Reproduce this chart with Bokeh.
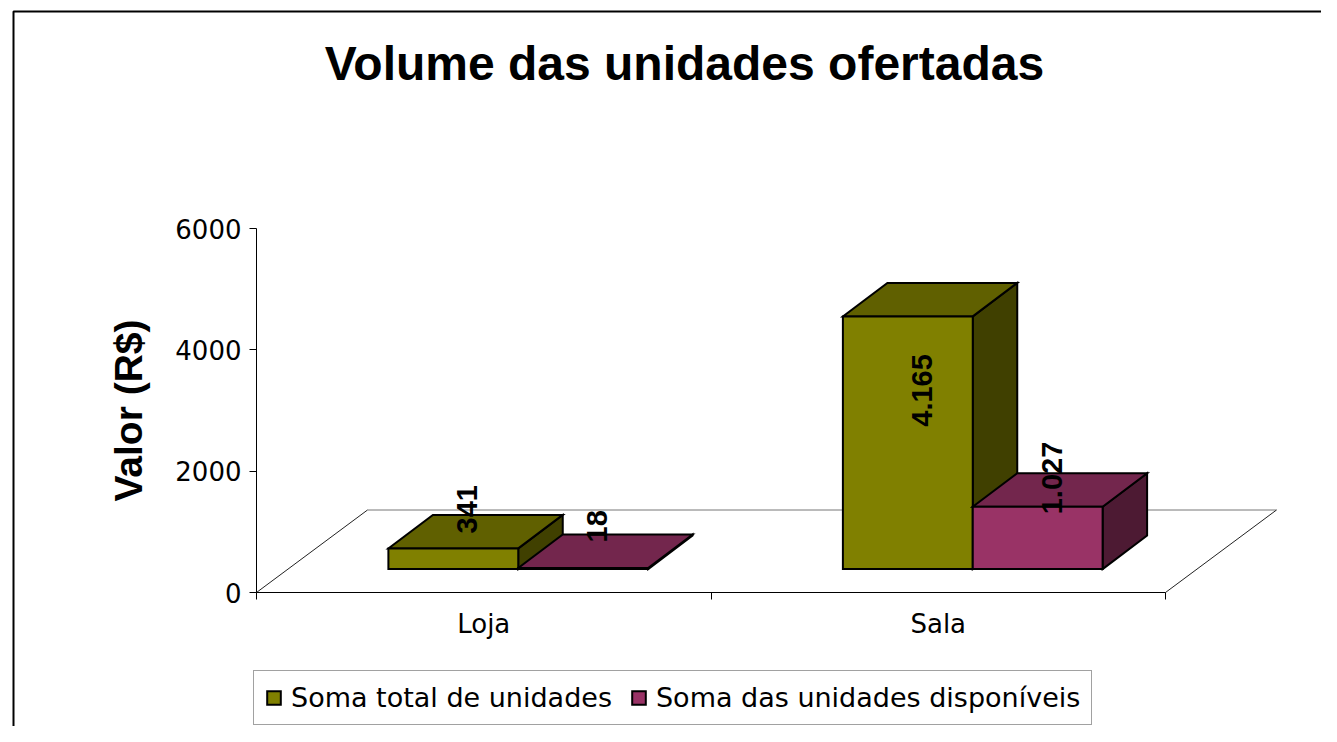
import math
from bokeh.plotting import figure
from bokeh.models import (ColumnDataSource, Range1d, FixedTicker, Legend,
                          LegendItem, Label, BoxAnnotation)
from bokeh.core.properties import value
from bokeh.embed import file_html
from bokeh.resources import INLINE

# ---------------- data ----------------
categories = ["Loja", "Sala"]
series_names = ["Soma total de unidades", "Soma das unidades disponíveis"]
total_units = [341, 4165]
available_units = [18, 1027]
total_labels = ["341", "4.165"]
available_labels = ["18", "1.027"]
y_ticks = [0, 2000, 4000, 6000]
title_text = "Volume das unidades ofertadas"
y_title = "Valor (R$)"

# ---------------- layout constants ----------------
W, H = 1321, 726
X0_PX, Y0_PX = 256, 592          # screen position of the axes origin
SLOT_PX = 454.5                  # px per category slot
Y_MAX = 6000
PX_PER_UNIT = 364 / Y_MAX


def xd(px):
    return (px - X0_PX) / SLOT_PX


def yd(py):
    return (Y0_PX - py) / PX_PER_UNIT


BAR_W = 1 / 3.5
SHIFT_X = 34.5 / SLOT_PX
SHIFT_Y = 23.4 / PX_PER_UNIT
DEPTH_X = 44.5 / SLOT_PX
DEPTH_Y = 33.5 / PX_PER_UNIT
FLOOR_X = 111 / SLOT_PX
FLOOR_Y = 82.5 / PX_PER_UNIT

OLIVE = ("#808000", "#606000", "#404000")
PINK = ("#993366", "#73264d", "#4d1a33")


def faces(vals, offset):
    front = {"xs": [], "ys": []}
    top = {"xs": [], "ys": []}
    side = {"xs": [], "ys": []}
    for i, v in enumerate(vals):
        x0 = i + 0.5 + offset * BAR_W + SHIFT_X
        x1 = x0 + BAR_W
        b = SHIFT_Y
        t = b + v
        front["xs"].append([x0, x1, x1, x0])
        front["ys"].append([b, b, t, t])
        top["xs"].append([x0, x1, x1 + DEPTH_X, x0 + DEPTH_X])
        top["ys"].append([t, t, t + DEPTH_Y, t + DEPTH_Y])
        side["xs"].append([x1, x1 + DEPTH_X, x1 + DEPTH_X, x1])
        side["ys"].append([b, b + DEPTH_Y, t + DEPTH_Y, t])
    return front, top, side


p = figure(width=W, height=H,
           x_range=Range1d(xd(0), xd(W)),
           y_range=Range1d(yd(H), yd(0)),
           output_backend="svg", toolbar_location=None,
           min_border=0, min_border_left=0, min_border_right=0,
           min_border_top=0, min_border_bottom=0)
p.title.visible = False
p.outline_line_color = None
p.grid.visible = False
p.background_fill_color = "white"
p.border_fill_color = "white"

n = len(categories)

# chart border
p.add_layout(BoxAnnotation(left=xd(13), right=xd(3000), top=yd(11), bottom=yd(3000),
                           fill_alpha=0, line_color="black", line_width=2, line_alpha=1,
                           level="underlay"))

# floor
p.line(x=[FLOOR_X, n + FLOOR_X], y=[FLOOR_Y, FLOOR_Y], line_color="#777777", line_width=1)
p.segment(x0=[0, n], y0=[0, 0], x1=[FLOOR_X, n + FLOOR_X], y1=[FLOOR_Y, FLOOR_Y],
          line_color="#222222", line_width=1)

renderers = {}
for name, vals, off, cols in [("total", total_units, -1, OLIVE),
                              ("avail", available_units, 0, PINK)]:
    front, top, side = faces(vals, off)
    p.patches(xs="xs", ys="ys", source=ColumnDataSource(side), fill_color=cols[2],
              line_color="black", line_width=2, line_join="miter")
    p.patches(xs="xs", ys="ys", source=ColumnDataSource(top), fill_color=cols[1],
              line_color="black", line_width=2, line_join="miter")
    renderers[name] = p.patches(xs="xs", ys="ys", source=ColumnDataSource(front),
                                fill_color=cols[0], line_color="black",
                                line_width=2, line_join="miter")

# value labels
lab_x, lab_y, lab_t = [], [], []
for vals, off, texts in [(total_units, -1, total_labels), (available_units, 0, available_labels)]:
    for i, v in enumerate(vals):
        cx = i + 0.5 + off * BAR_W + SHIFT_X + BAR_W / 2
        lab_x.append(cx + 14 / SLOT_PX)
        lab_y.append(SHIFT_Y + 0.46 * v + 0.78 * DEPTH_Y)
        lab_t.append(texts[i])
p.text(x=lab_x, y=lab_y, text=lab_t, angle=math.pi / 2, text_align="left",
       text_baseline="middle", text_font=value("Liberation Sans"),
       text_font_style="bold", text_font_size="29px", text_color="black")

# axes (fixed at the data origin)
p.yaxis.fixed_location = 0
p.yaxis.bounds = (0, Y_MAX)
p.yaxis.ticker = FixedTicker(ticks=y_ticks)
p.yaxis.major_label_text_font = "DejaVu Sans"
p.yaxis.major_label_text_font_size = "26px"
p.yaxis.major_label_text_color = "black"
p.yaxis.major_tick_out = 7
p.yaxis.major_tick_in = 0
p.yaxis.minor_tick_line_color = None
p.yaxis.axis_line_color = "black"
p.yaxis.major_tick_line_color = "black"
p.yaxis.major_label_standoff = 8
p.yaxis.axis_label = y_title
p.yaxis.axis_label_text_font = "Liberation Sans"
p.yaxis.axis_label_text_font_style = "bold"
p.yaxis.axis_label_text_font_size = "39px"
p.yaxis.axis_label_text_color = "black"
p.yaxis.axis_label_standoff = 22

x_ticks = [i + 0.5 for i in range(n)]
p.xaxis.fixed_location = 0
p.xaxis.ticker = FixedTicker(ticks=x_ticks, minor_ticks=list(range(n + 1)))
p.xaxis.major_label_overrides = dict(zip(x_ticks, categories))
p.xaxis.bounds = (0, n)
p.xaxis.major_tick_out = 0
p.xaxis.major_tick_in = 0
p.xaxis.minor_tick_out = 7
p.xaxis.minor_tick_in = 0
p.xaxis.minor_tick_line_color = "black"
p.xaxis.axis_line_color = "black"
p.xaxis.major_label_text_font = "DejaVu Sans"
p.xaxis.major_label_text_font_size = "26px"
p.xaxis.major_label_text_color = "black"
p.xaxis.major_label_standoff = 9

# title
p.add_layout(Label(x=xd(684), y=yd(63), text=title_text, text_align="center",
                   text_baseline="alphabetic", text_font="Liberation Sans",
                   text_font_size="48px", text_font_style="bold", text_color="black"))

# legend
legend = Legend(items=[LegendItem(label=series_names[0], renderers=[renderers["total"]]),
                       LegendItem(label=series_names[1], renderers=[renderers["avail"]])],
                orientation="horizontal", location=(253, 1),
                label_text_font="DejaVu Sans", label_text_font_size="27px",
                label_text_color="black", glyph_width=17, glyph_height=17,
                label_standoff=9, spacing=18, padding=11, margin=0,
                border_line_color="#444444", border_line_width=1,
                background_fill_color="white", background_fill_alpha=1)
p.add_layout(legend)

open("out.html", "w").write(file_html(p, INLINE))
